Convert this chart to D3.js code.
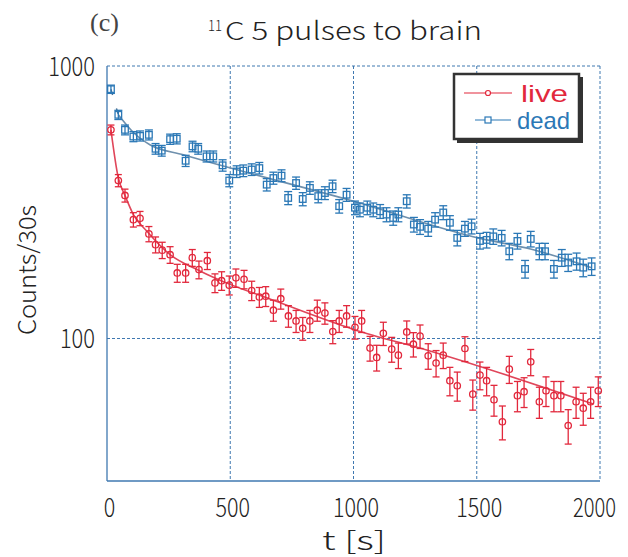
<!DOCTYPE html>
<html>
<head>
<meta charset="utf-8">
<script src="https://cdn.jsdelivr.net/npm/d3@7/dist/d3.min.js"></script>
<style>
  html, body { margin: 0; padding: 0; background: #fff; }
  svg { display: block; }
  text { font-family: "Noto Sans CJK JP", "Noto Sans", sans-serif; font-weight: 300; fill: #222; }
</style>
</head>
<body>
<svg id="chart" width="628" height="557"></svg>
<script>
// ---- data ----
const liveT = [16,46,73,107,134,170,197,224,256,285,319,346,373,407,438,465,496,523,556,587,618,644,675,705,736,767,794,823,853,884,916,942,972,1006,1033,1067,1094,1121,1155,1182,1216,1243,1270,1303,1335,1364,1391,1421,1452,1484,1513,1540,1570,1604,1632,1665,1692,1719,1754,1781,1813,1841,1871,1903,1932,1962,1993];
const liveV = [583,380,335,273,276,242,221,211,203,174,174,198,179,193,160,163,157,167,165,150,142,143,127,140,121,116,109,116,127,124,106,116,121,110,116,92.2,85.2,104.5,91.4,86.9,105.7,95.3,102,86.4,81.3,86.9,70,67.1,91.9,62.5,73.4,70,59.6,49.5,77.2,61.7,63.8,82.1,58.6,64.3,61.7,61.7,47.9,58.6,55.5,58.6,64.3];
const deadT = [16,46,73,107,134,170,197,222,256,283,319,347,370,404,431,469,496,526,553,587,618,648,675,708,735,767,794,823,857,884,915,942,972,1006,1026,1056,1080,1108,1134,1161,1182,1216,1245,1270,1303,1331,1364,1391,1421,1452,1479,1513,1540,1567,1601,1632,1665,1696,1719,1754,1777,1813,1845,1871,1905,1932,1966];
const deadV = [822,662,583,551,554,559,497,489,539,541,449,507,497,466,466,432,380,410,413,417,422,367,388,396,328,372,325,357,333,342,362,306,337,302,297,302,297,293,285,277,285,319,262,257,253,273,290,266,234,253,258,228,230,237,234,209,228,180,232,209,209,180,198,190,192,182,184];
// fitted curves
const liveFitT = [16,46,73,107,161,256,377,499,648,1000,1310,1973];
const liveFitV = [583,388,335,285,248,203,177,158,141,108,90,57.5];
const deadFitT = [46,107,174,310,1000,1513,1718,1966];
const deadFitV = [662,570,514,472,319,233,213,182];
const xTicks = [0,500,1000,1500,2000];
const yTicks = [100,1000];
const seriesNames = ["live","dead"];

const RED = "#e2283c", BLUE = "#2b78b6", GRID = "#3f78b0";

const svg = d3.select("#chart");
const L = 107, R = 600, T = 66, B = 481;
const x = d3.scaleLinear().domain([0,2000]).range([L,R]);
const y = d3.scaleLog().domain([30,1000]).range([B,T]);

// grid
const g = svg.append("g");
g.selectAll(".vg").data(xTicks.filter(d => d > 0 && d < 2000)).join("line")
  .attr("x1", d => x(d)).attr("x2", d => x(d)).attr("y1", T).attr("y2", B)
  .attr("stroke", GRID).attr("stroke-width", 1).attr("stroke-dasharray", "3,2");
g.selectAll(".hg").data(yTicks.filter(d => d < 1000)).join("line")
  .attr("x1", L).attr("x2", R).attr("y1", d => y(d)).attr("y2", d => y(d))
  .attr("stroke", GRID).attr("stroke-width", 1).attr("stroke-dasharray", "3,2");
// frame
g.append("line").attr("x1", L).attr("x2", R).attr("y1", T).attr("y2", T).attr("stroke", GRID).attr("stroke-dasharray", "3,2");
g.append("line").attr("x1", R).attr("x2", R).attr("y1", T).attr("y2", B).attr("stroke", GRID).attr("stroke-dasharray", "3,2");
g.append("line").attr("x1", L).attr("x2", L).attr("y1", T).attr("y2", B).attr("stroke", GRID).attr("stroke-width", 1.3);
g.append("line").attr("x1", L).attr("x2", R).attr("y1", B).attr("y2", B).attr("stroke", GRID).attr("stroke-width", 1.3);

// axes labels via d3 axis generators (ticks hidden, labels styled)
const xAxis = svg.append("g").attr("transform", `translate(0,${B})`)
  .call(d3.axisBottom(x).tickValues(xTicks).tickSize(0).tickPadding(0).tickFormat(d3.format("d")));
xAxis.select(".domain").remove();
xAxis.selectAll("text").attr("y", 36).attr("dy", 0).attr("dx", d => d === 2000 ? -6 : 2)
  .style("font-size", "26px").style("font-family", '"Noto Sans CJK JP", sans-serif').style("font-weight", 300).attr("fill", "#222")
  .attr("textLength", d => d === 2000 ? 43 : String(d).length * 11.5).attr("lengthAdjust", "spacingAndGlyphs");

const yAxis = svg.append("g").attr("transform", `translate(${L},0)`)
  .call(d3.axisLeft(y).tickValues(yTicks).tickSize(0).tickPadding(12).tickFormat(d3.format("d")));
yAxis.select(".domain").remove();
yAxis.selectAll("text").attr("dy", "0.36em")
  .style("font-size", "26px").style("font-family", '"Noto Sans CJK JP", sans-serif').style("font-weight", 300).attr("fill", "#222")
  .attr("textLength", d => String(d).length * 11.7).attr("lengthAdjust", "spacingAndGlyphs");

// fit lines
const line = d3.line().x(d => x(d[0])).y(d => y(d[1])).curve(d3.curveMonotoneX);
svg.append("path").datum(deadFitT.map((t,i) => [t, deadFitV[i]]))
  .attr("d", line).attr("fill", "none").attr("stroke", "#6f90ad").attr("stroke-width", 1.6);
svg.append("path").datum([[deadT[0], deadV[0]],[deadT[1], deadV[1]]])
  .attr("d", d3.line().x(d => x(d[0])).y(d => y(d[1])))
  .attr("fill", "none").attr("stroke", "#4a6f90").attr("stroke-width", 1.4).attr("stroke-dasharray", "6,14");
svg.append("path").datum(liveFitT.map((t,i) => [t, liveFitV[i]]))
  .attr("d", line).attr("fill", "none").attr("stroke", "#e0465a").attr("stroke-width", 1.6);

// error bars + markers
function drawSeries(T_, V_, color, shape, cap) {
  const data = T_.map((t,i) => ({t, v: V_[i], e: Math.sqrt(V_[i])}));
  const s = svg.append("g");
  const gg = s.selectAll("g").data(data).join("g");
  gg.append("line").attr("x1", d => x(d.t)).attr("x2", d => x(d.t))
    .attr("y1", d => y(d.v + d.e)).attr("y2", d => y(d.v - d.e))
    .attr("stroke", color).attr("stroke-width", 1.3);
  [1,-1].forEach(sg => {
    gg.append("line").attr("x1", d => x(d.t) - cap).attr("x2", d => x(d.t) + cap)
      .attr("y1", d => y(d.v + sg*d.e)).attr("y2", d => y(d.v + sg*d.e))
      .attr("stroke", color).attr("stroke-width", 1.3);
  });
  if (shape === "circle") {
    gg.append("circle").attr("cx", d => x(d.t)).attr("cy", d => y(d.v)).attr("r", 3.2)
      .attr("fill", "none").attr("stroke", color).attr("stroke-width", 1.3);
  } else {
    gg.append("rect").attr("x", d => x(d.t) - 3.3).attr("y", d => y(d.v) - 3.3)
      .attr("width", 6.6).attr("height", 6.6)
      .attr("fill", "none").attr("stroke", color).attr("stroke-width", 1.3);
  }
}
drawSeries(deadT, deadV, BLUE, "square", 4);
drawSeries(liveT, liveV, RED, "circle", 3.5);

// legend
const lg = svg.append("g");
lg.append("rect").attr("x", 457).attr("y", 77).attr("width", 126).attr("height", 66).attr("fill", "#333");
lg.append("rect").attr("x", 454).attr("y", 74).attr("width", 125).attr("height", 65)
  .attr("fill", "#fff").attr("stroke", "#333").attr("stroke-width", 2.5);
const legRows = [
  {name: seriesNames[0], color: RED, shape: "circle", y: 93, x1: 464, x2: 512, tx: 521},
  {name: seriesNames[1], color: BLUE, shape: "square", y: 120, x1: 475, x2: 511, tx: 517}
];
legRows.forEach(r => {
  lg.append("line").attr("x1", r.x1).attr("x2", r.x2).attr("y1", r.y).attr("y2", r.y)
    .attr("stroke", r.color).attr("stroke-width", 1.2);
  if (r.shape === "circle") {
    lg.append("circle").attr("cx", 488).attr("cy", r.y).attr("r", 2.5).attr("fill", "#fff").attr("stroke", r.color).attr("stroke-width", 1.2);
  } else {
    lg.append("rect").attr("x", 485).attr("y", r.y - 3).attr("width", 6).attr("height", 6).attr("fill", "#fff").attr("stroke", r.color).attr("stroke-width", 1.2);
  }
  lg.append("text").attr("x", r.tx).attr("y", r.y + 9).text(r.name)
    .style("font-family", '"Liberation Sans", Arial, sans-serif')
    .style("font-size", "24px").style("font-weight", 400).attr("fill", r.color).style("fill", r.color)
    .attr("textLength", r.name === "live" ? 47 : 53).attr("lengthAdjust", "spacingAndGlyphs");
});

// title
const title = svg.append("text").attr("x", 208).attr("y", 40).style("font-size", "25px");
title.append("tspan").text("11").style("font-size", "15px").attr("dy", -9)
  .attr("textLength", 14).attr("lengthAdjust", "spacingAndGlyphs");
title.append("tspan").text("C 5 pulses to brain").attr("x", 225).attr("dy", 9)
  .attr("textLength", 257).attr("lengthAdjust", "spacingAndGlyphs");

svg.append("text").attr("x", 90).attr("y", 31).text("(c)")
  .style("font-family", '"Liberation Serif", "DejaVu Serif", serif').style("font-weight", 400)
  .style("font-size", "26px").style("fill", "#444");

// axis titles
svg.append("text").attr("transform", "translate(36,270) rotate(-90)").attr("text-anchor", "middle")
  .text("Counts/30s").style("font-size", "24px")
  .attr("textLength", 130).attr("lengthAdjust", "spacingAndGlyphs");
svg.append("text").attr("x", 354).attr("y", 550).attr("text-anchor", "middle")
  .text("t [s]").style("font-size", "26px")
  .attr("textLength", 64).attr("lengthAdjust", "spacingAndGlyphs");
</script>
</body>
</html>
